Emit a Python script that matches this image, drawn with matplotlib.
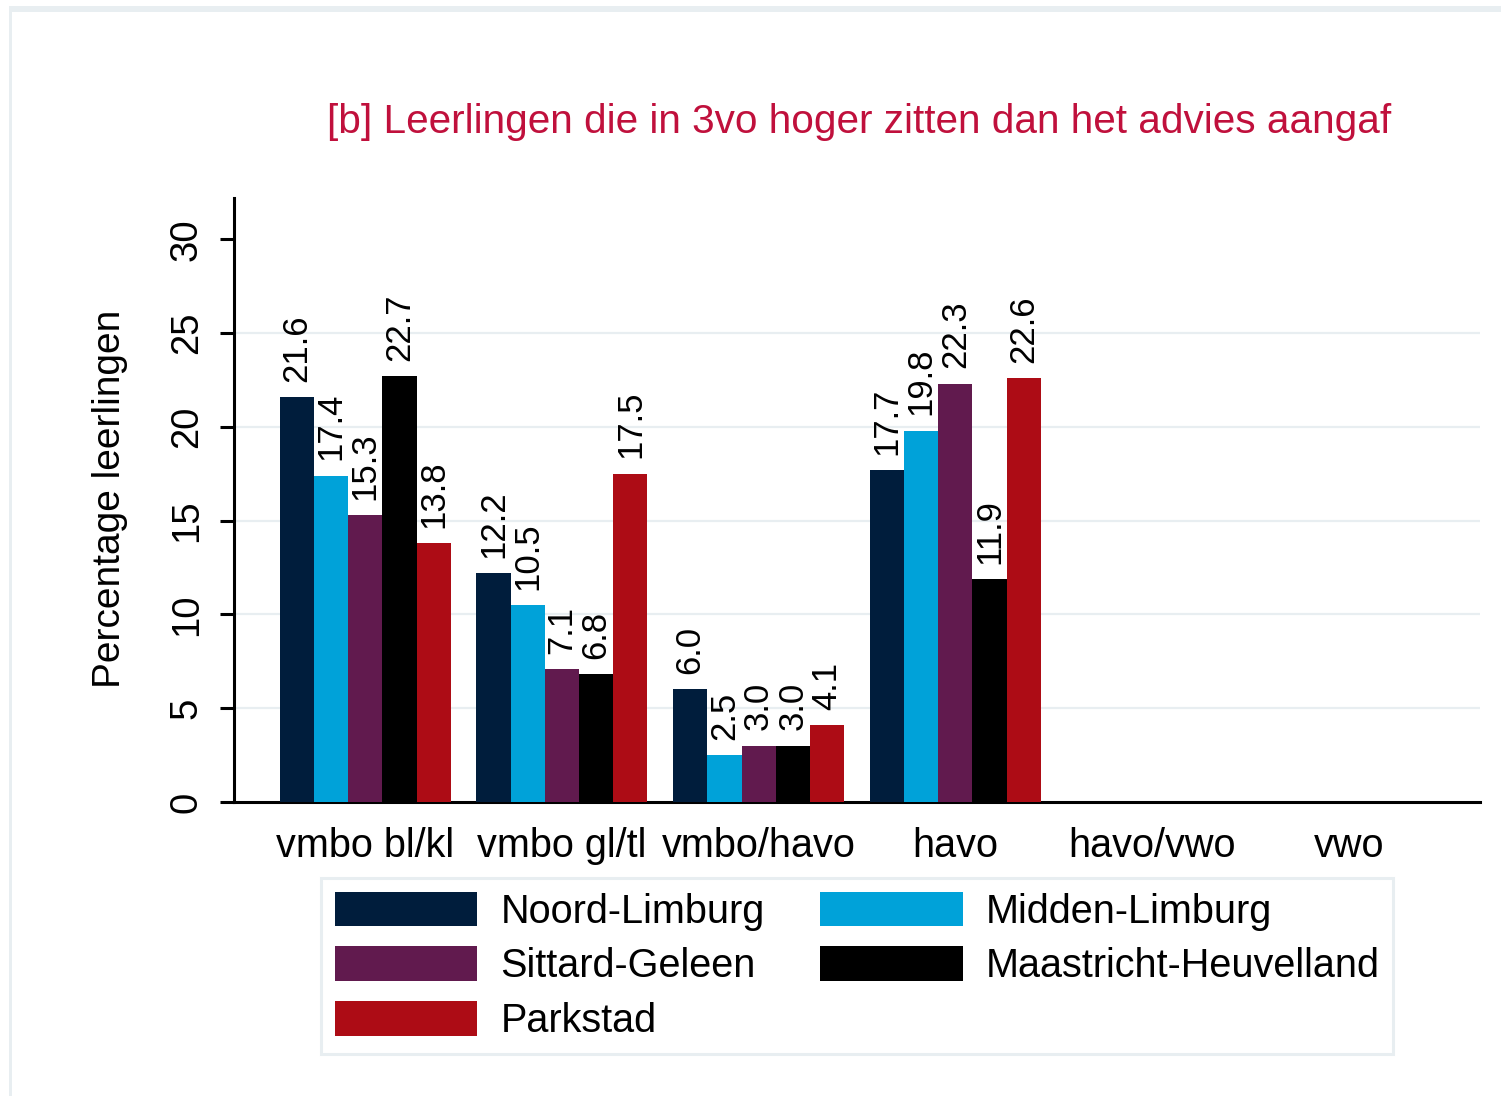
import numpy as np
import matplotlib
matplotlib.use('Agg')
import matplotlib.pyplot as plt
from matplotlib.patches import Rectangle

# dados
categorias = ['vmbo bl/kl', 'vmbo gl/tl', 'vmbo/havo', 'havo', 'havo/vwo', 'vwo']
regioes = ['Noord-Limburg', 'Midden-Limburg', 'Sittard-Geleen',
           'Maastricht-Heuvelland', 'Parkstad']
noord = [21.6, 12.2, 6.0, 17.7, np.nan, np.nan]
midden = [17.4, 10.5, 2.5, 19.8, np.nan, np.nan]
sittard = [15.3, 7.1, 3.0, 22.3, np.nan, np.nan]
maastricht = [22.7, 6.8, 3.0, 11.9, np.nan, np.nan]
parkstad = [13.8, 17.5, 4.1, 22.6, np.nan, np.nan]
series = [noord, midden, sittard, maastricht, parkstad]
cores = ['#001d3c', '#00a2d9', '#611a4e', '#000000', '#ad0c15']
titulo = '[b] Leerlingen die in 3vo hoger zitten dan het advies aangaf'

plt.rcParams['font.family'] = ['Liberation Sans', 'DejaVu Sans']

fig = plt.figure(figsize=(15.01, 10.96), dpi=100)
ax = fig.add_axes([234/1501, 1-802/1096, (1480-234)/1501, (802-198)/1096])

# moldura clara em volta
fig.add_artist(Rectangle((10/1501, 1-12/1096), 1, 6/1096, transform=fig.transFigure,
                         color='#e8eef1', lw=0))
fig.add_artist(Rectangle((9/1501, 0), 3/1501, 1-6/1096, transform=fig.transFigure,
                         color='#e8eef1', lw=0))

x = np.arange(len(categorias))
w = 0.174
barras = []
for i in range(len(series)):
    pos = x + (i-2)*w
    b = ax.bar(pos, series[i], w, color=cores[i], label=regioes[i], zorder=3)
    barras.append(b)
    for p, v in zip(pos, series[i]):
        if not np.isnan(v):
            ax.annotate('%.1f' % v, (p, v), xytext=(0, 11), textcoords='offset points',
                        rotation=90, ha='center', va='bottom', fontsize=25, zorder=4)

ax.set_xlim(-0.667, 5.667)
ax.set_ylim(0, 32.2)
ax.set_yticks([0, 5, 10, 15, 20, 25, 30])
ax.set_xticks(x)
ax.set_xticklabels(categorias, fontsize=28.5)
ax.tick_params(axis='x', length=0, pad=18)
ax.tick_params(axis='y', length=10, width=2.2, pad=11, labelsize=27.5, labelrotation=90)
for t in ax.get_yticklabels():
    t.set_va('center')

ax.grid(axis='y', color='#e8eef1', linewidth=1.6, zorder=0)
for g in ax.get_ygridlines()[:1] + ax.get_ygridlines()[-1:]:
    g.set_visible(False)
ax.spines['top'].set_visible(False)
ax.spines['right'].set_visible(False)
ax.spines['left'].set_linewidth(2.2)
ax.spines['bottom'].set_linewidth(2.2)

ax.set_ylabel('Percentage leerlingen', fontsize=28)
ax.yaxis.set_label_coords(-(234-128)/1246, (802-499)/604)

fig.text(859/1501, 1-122/1096, titulo, color='#c0103c', fontsize=29.2,
         ha='center', va='center')

# ordem por linhas como no original
ordem = [0, 2, 4, 1, 3]
leg = ax.legend([barras[k] for k in ordem], [regioes[k] for k in ordem], ncol=2,
                loc='upper center', bbox_to_anchor=(0.5, -(878-802)/604),
                fontsize=28.5, handlelength=3.61, handleheight=0.96,
                handletextpad=0.58, columnspacing=1.39, labelspacing=0.4,
                borderpad=0.35, borderaxespad=0, fancybox=False, framealpha=1)
leg.get_frame().set_edgecolor('#e8eef1')
leg.get_frame().set_linewidth(2.2)

plt.savefig('out.png', dpi=100)
